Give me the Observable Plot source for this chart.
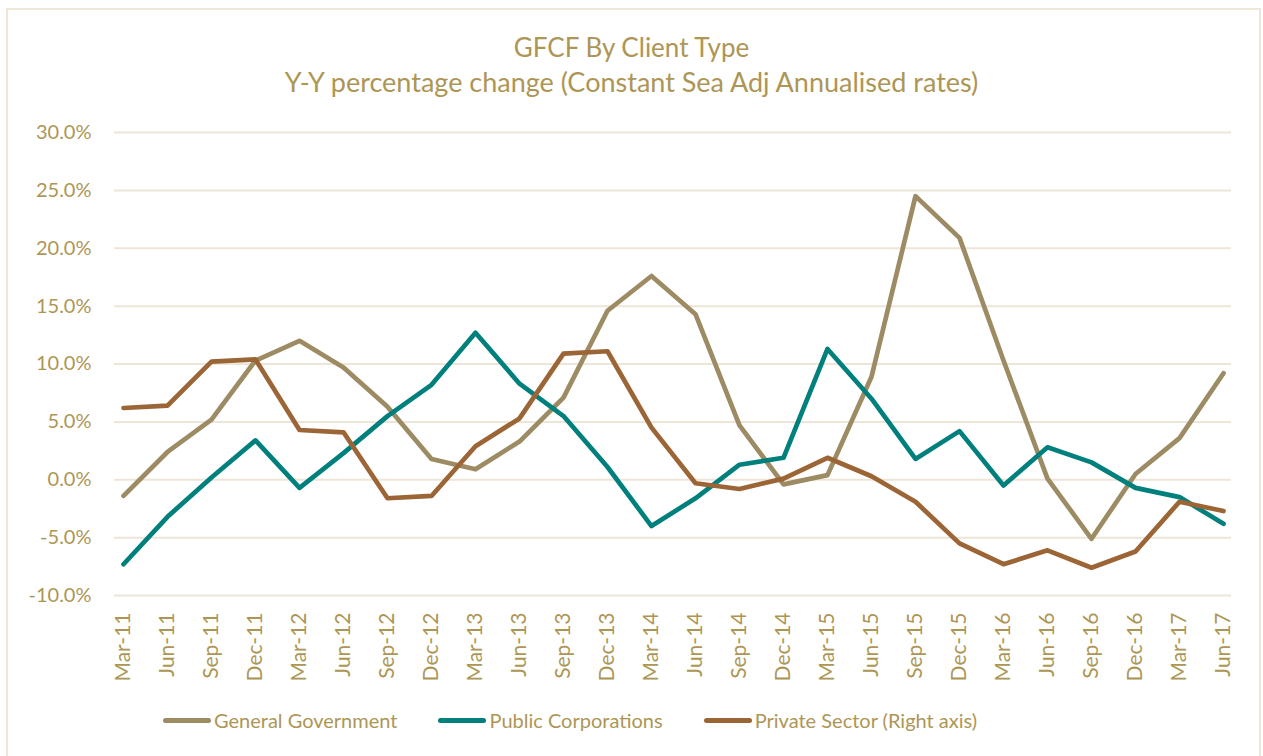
<!DOCTYPE html>
<html>
<head>
<meta charset="utf-8">
<script src="https://cdn.jsdelivr.net/npm/d3@7"></script>
<script src="https://cdn.jsdelivr.net/npm/@observablehq/plot@0.6"></script>
<style>
  html, body { margin: 0; padding: 0; background: #fff; }
  #wrap { position: relative; width: 1263px; height: 756px; overflow: hidden; font-family: Lato, "Open Sans", sans-serif; color: #AD9655; }
  #frame { position: absolute; left: 6px; top: 8px; width: 1251px; height: 800px; border: 2px solid #EEE7D9; box-sizing: content-box; }
  .title { position: absolute; left: 0; width: 1263px; text-align: center; font-size: 26px; line-height: 32px; white-space: nowrap; }
  #chart { position: absolute; left: 0; top: 110px; }
  #legend { position: absolute; left: 163px; top: 707px; display: flex; gap: 41px; align-items: center; font-size: 20px; line-height: 26px; white-space: nowrap; }
  .item { display: flex; align-items: center; }
  .sw { width: 48px; height: 5px; border-radius: 3px; margin-right: 3px; }
</style>
</head>
<body>
<div id="wrap">
  <div id="frame"></div>
  <div class="title" id="t1" style="top:31px"></div>
  <div class="title" id="t2" style="top:66px; font-size:27px"></div>
  <div id="chart"></div>
  <div id="legend"></div>
</div>
<script>
const titleText = "GFCF By Client Type";
const subtitleText = "Y-Y percentage change (Constant Sea Adj Annualised rates)";

const quarters = ["Mar-11","Jun-11","Sep-11","Dec-11","Mar-12","Jun-12","Sep-12","Dec-12",
  "Mar-13","Jun-13","Sep-13","Dec-13","Mar-14","Jun-14","Sep-14","Dec-14",
  "Mar-15","Jun-15","Sep-15","Dec-15","Mar-16","Jun-16","Sep-16","Dec-16","Mar-17","Jun-17"];

const generalGovernment = [-1.4, 2.4, 5.2, 10.3, 12.0, 9.7, 6.3, 1.8, 0.9, 3.3, 7.1, 14.6, 17.6, 14.3, 4.7, -0.4,
  0.4, 8.9, 24.5, 20.9, 10.3, 0.1, -5.1, 0.5, 3.6, 9.2];
const publicCorporations = [-7.3, -3.2, 0.2, 3.4, -0.7, 2.3, 5.5, 8.2, 12.7, 8.3, 5.5, 1.1, -4.0, -1.6, 1.3, 1.9,
  11.3, 7.0, 1.8, 4.2, -0.5, 2.8, 1.5, -0.7, -1.5, -3.8];
const privateSector = [6.2, 6.4, 10.2, 10.4, 4.3, 4.1, -1.6, -1.4, 2.9, 5.3, 10.9, 11.1, 4.5, -0.3, -0.8, 0.1,
  1.9, 0.3, -1.9, -5.5, -7.3, -6.1, -7.6, -6.2, -1.9, -2.7];

const seriesNames = ["General Government", "Public Corporations", "Private Sector (Right axis)"];
const seriesValues = [generalGovernment, publicCorporations, privateSector];
const seriesColors = ["#9C8B63", "#00807C", "#9B6535"];
const yTicks = [-10, -5, 0, 5, 10, 15, 20, 25, 30];

document.getElementById("t1").textContent = titleText;
document.getElementById("t2").textContent = subtitleText;

const rows = seriesNames.flatMap((s, i) => quarters.map((q, j) => ({series: s, quarter: q, value: seriesValues[i][j]})));
const pct = d => d.toFixed(1) + "%";

const chart = Plot.plot({
  width: 1263,
  height: 580,
  marginLeft: 114,
  marginRight: 32,
  marginTop: 22,
  marginBottom: 95,
  style: {fontFamily: "Lato, 'Open Sans', sans-serif", fontSize: "20px", color: "#AD9655", background: "transparent", overflow: "visible"},
  x: {type: "point", domain: quarters, padding: 0, insetLeft: 7, insetRight: 7, label: null},
  y: {domain: [-10, 30], label: null},
  color: {domain: seriesNames, range: seriesColors},
  marks: [
    Plot.ruleY(yTicks, {stroke: "#ECE5D8", strokeWidth: 2}),
    Plot.axisY({ticks: yTicks, tickSize: 0, tickPadding: 23, tickFormat: pct, label: null}),
    Plot.axisX({tickSize: 0, tickRotate: -90, tickPadding: 17, fontSize: 21, label: null}),
    Plot.line(rows, {x: "quarter", y: "value", z: "series", stroke: "series", strokeWidth: 4.7,
      strokeLinejoin: "round", strokeLinecap: "round"})
  ]
});
document.getElementById("chart").appendChild(chart);

const legend = document.getElementById("legend");
seriesNames.forEach((name, i) => {
  const item = document.createElement("div");
  item.className = "item";
  const sw = document.createElement("div");
  sw.className = "sw";
  sw.style.background = seriesColors[i];
  const label = document.createElement("span");
  label.textContent = name;
  item.appendChild(sw);
  item.appendChild(label);
  legend.appendChild(item);
});
</script>
</body>
</html>
